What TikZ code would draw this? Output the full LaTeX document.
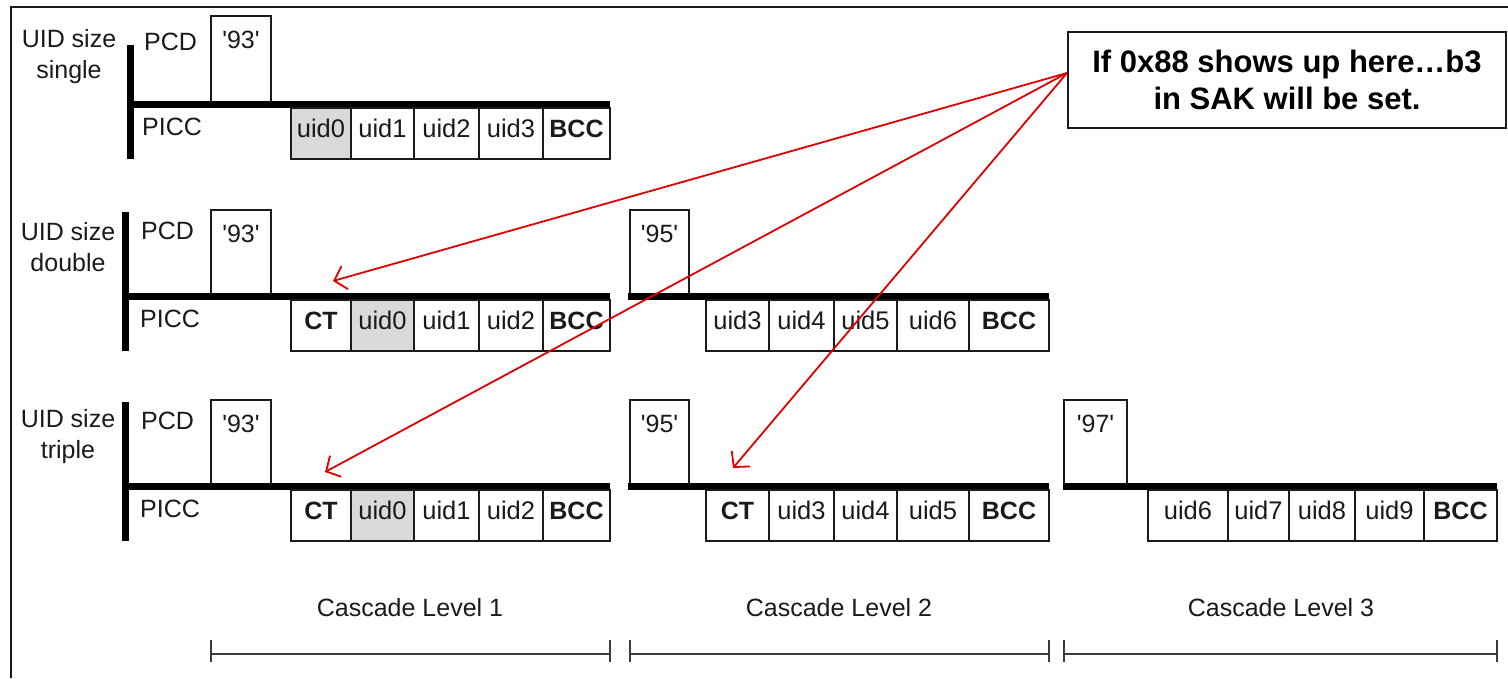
\documentclass[tikz,border=0pt]{standalone}
\usepackage{fontspec}
\setmainfont{Liberation Sans}
\usetikzlibrary{arrows.meta}
\definecolor{ink}{HTML}{1A1A1A}
\definecolor{shade}{HTML}{D9D9D9}
\definecolor{callred}{HTML}{E00000}
\newcommand{\sq}{\textquotesingle}
\tikzset{
  txt/.style={font=\fontsize{25}{31}\selectfont, text=ink, inner sep=0pt},
  cell/.style={draw=ink, line width=1.3pt, minimum height=51pt, inner sep=0pt,
    text height=17pt, text depth=10pt, font=\fontsize{25.5}{28}\selectfont, text=ink},
  uidcell/.style={cell},
  keycell/.style={cell, font=\fontsize{25}{28}\selectfont\bfseries},
  grey/.style={fill=shade},
  cmdbox/.style={draw=ink, line width=1.3pt, minimum height=88pt, inner sep=0pt,
    text height=17pt, text depth=41pt, font=\fontsize{25}{28}\selectfont, text=ink},
  rail/.style={line width=7pt, black},
  redarrow/.style={draw=callred, line width=1.8pt,
    -{Straight Barb[length=11pt, width=24pt, line width=1.8pt]}},
  span/.style={draw=ink!85, line width=1.5pt}
}
\begin{document}
\begin{tikzpicture}[x=1pt, y=-1pt]
\useasboundingbox (0,0) rectangle (1508,678);

% outer frame (only left and top edges are visible)
\draw[ink, line width=2.2pt] (11,678) -- (11,7) -- (1508,7);

% ---------------- UID size single ----------------
\node[txt, align=center] (lab1) at (69,57) {UID size\\single};
\node[txt, anchor=base west] (pcd1) at (144,50) {PCD};
\node[txt, anchor=base west] (picc1) at (142,135) {PICC};
\node[cmdbox, minimum width=60pt] (sel1) at (241,60) {\sq93\sq};
\draw[rail] (130.5,45) -- (130.5,159);
\draw[rail] (127,104) -- (610,104);
\node[uidcell, grey, minimum width=60pt] (s1u0) at (321,133.5) {uid0};
\node[uidcell, minimum width=63pt] (s1u1) at (382.5,133.5) {uid1};
\node[uidcell, minimum width=65pt] (s1u2) at (446.5,133.5) {uid2};
\node[uidcell, minimum width=64pt] (s1u3) at (511,133.5) {uid3};
\node[keycell, minimum width=67pt] (s1bcc) at (576.5,133.5) {BCC};

% ---------------- UID size double ----------------
\node[txt, align=center] (lab2) at (68,247) {UID size\\double};
\node[txt, anchor=base west] (pcd2) at (141,239) {PCD};
\node[txt, anchor=base west] (picc2) at (140,327) {PICC};
\node[cmdbox, minimum width=60pt] (sel2a) at (241,254) {\sq93\sq};
\node[cmdbox, minimum width=59pt] (sel2b) at (659.5,254) {\sq95\sq};
\draw[rail] (125,212) -- (125,351);
\draw[rail] (121.5,296) -- (610,296);
\draw[rail] (628,296) -- (1049,296);
% cascade level 1
\node[keycell, minimum width=60pt] (d1ct) at (321,325.5) {CT};
\node[uidcell, grey, minimum width=63pt] (d1u0) at (382.5,325.5) {uid0};
\node[uidcell, minimum width=65pt] (d1u1) at (446.5,325.5) {uid1};
\node[uidcell, minimum width=64pt] (d1u2) at (511,325.5) {uid2};
\node[keycell, minimum width=67pt] (d1bcc) at (576.5,325.5) {BCC};
% cascade level 2
\node[uidcell, minimum width=63pt] (d2u3) at (737.5,325.5) {uid3};
\node[uidcell, minimum width=65pt] (d2u4) at (801.5,325.5) {uid4};
\node[uidcell, minimum width=63pt] (d2u5) at (865.5,325.5) {uid5};
\node[uidcell, minimum width=72pt] (d2u6) at (933,325.5) {uid6};
\node[keycell, minimum width=80pt] (d2bcc) at (1009,325.5) {BCC};

% ---------------- UID size triple ----------------
\node[txt, align=center] (lab3) at (68,437) {UID size\\triple};
\node[txt, anchor=base west] (pcd3) at (141,429) {PCD};
\node[txt, anchor=base west] (picc3) at (140,517) {PICC};
\node[cmdbox, minimum width=60pt] (sel3a) at (241,444) {\sq93\sq};
\node[cmdbox, minimum width=59pt] (sel3b) at (659.5,444) {\sq95\sq};
\node[cmdbox, minimum width=63pt] (sel3c) at (1095.5,444) {\sq97\sq};
\draw[rail] (125,402) -- (125,541);
\draw[rail] (121.5,486) -- (610,486);
\draw[rail] (628,486) -- (1049,486);
\draw[rail] (1063,486) -- (1497,486);
% cascade level 1
\node[keycell, minimum width=60pt] (t1ct) at (321,515.5) {CT};
\node[uidcell, grey, minimum width=63pt] (t1u0) at (382.5,515.5) {uid0};
\node[uidcell, minimum width=65pt] (t1u1) at (446.5,515.5) {uid1};
\node[uidcell, minimum width=64pt] (t1u2) at (511,515.5) {uid2};
\node[keycell, minimum width=67pt] (t1bcc) at (576.5,515.5) {BCC};
% cascade level 2
\node[keycell, minimum width=63pt] (t2ct) at (737.5,515.5) {CT};
\node[uidcell, minimum width=65pt] (t2u3) at (801.5,515.5) {uid3};
\node[uidcell, minimum width=63pt] (t2u4) at (865.5,515.5) {uid4};
\node[uidcell, minimum width=72pt] (t2u5) at (933,515.5) {uid5};
\node[keycell, minimum width=80pt] (t2bcc) at (1009,515.5) {BCC};
% cascade level 3
\node[uidcell, minimum width=80pt] (t3u6) at (1188,515.5) {uid6};
\node[uidcell, minimum width=61pt] (t3u7) at (1258.5,515.5) {uid7};
\node[uidcell, minimum width=66pt] (t3u8) at (1322,515.5) {uid8};
\node[uidcell, minimum width=69pt] (t3u9) at (1389.5,515.5) {uid9};
\node[keycell, minimum width=73pt] (t3bcc) at (1460.5,515.5) {BCC};

% ---------------- cascade level spans ----------------
\node[txt] (cl1) at (410,608) {Cascade Level 1};
\node[txt] (cl2) at (839,608) {Cascade Level 2};
\node[txt] (cl3) at (1281,608) {Cascade Level 3};
\coordinate (a1) at (211,654); \coordinate (b1) at (610,654);
\coordinate (a2) at (630,654); \coordinate (b2) at (1049,654);
\coordinate (a3) at (1064,654); \coordinate (b3) at (1497,654);
\foreach \p/\q in {a1/b1, a2/b2, a3/b3}{
  \draw[span] (\p) -- (\q);
  \draw[span] ([yshift=14pt]\p) -- ([yshift=-8pt]\p);
  \draw[span] ([yshift=14pt]\q) -- ([yshift=-8pt]\q);
}

% ---------------- callout ----------------
\node[draw=ink, line width=2pt, fill=white, minimum width=438pt, minimum height=96pt,
  align=center, inner sep=0pt, font=\fontsize{31}{37}\selectfont\bfseries, text=black]
  (note) at (1287,80) {If 0x88 shows up here\ldots b3\\in SAK will be set.};
\coordinate (src) at ([yshift=7pt]note.west);
\coordinate (tip1) at (333,281);
\coordinate (tip2) at (325,472);
\coordinate (tip3) at (733,468);
\draw[redarrow] (src) -- (tip1);
\draw[redarrow] (src) -- (tip2);
\draw[redarrow] (src) -- (tip3);
\end{tikzpicture}
\end{document}
